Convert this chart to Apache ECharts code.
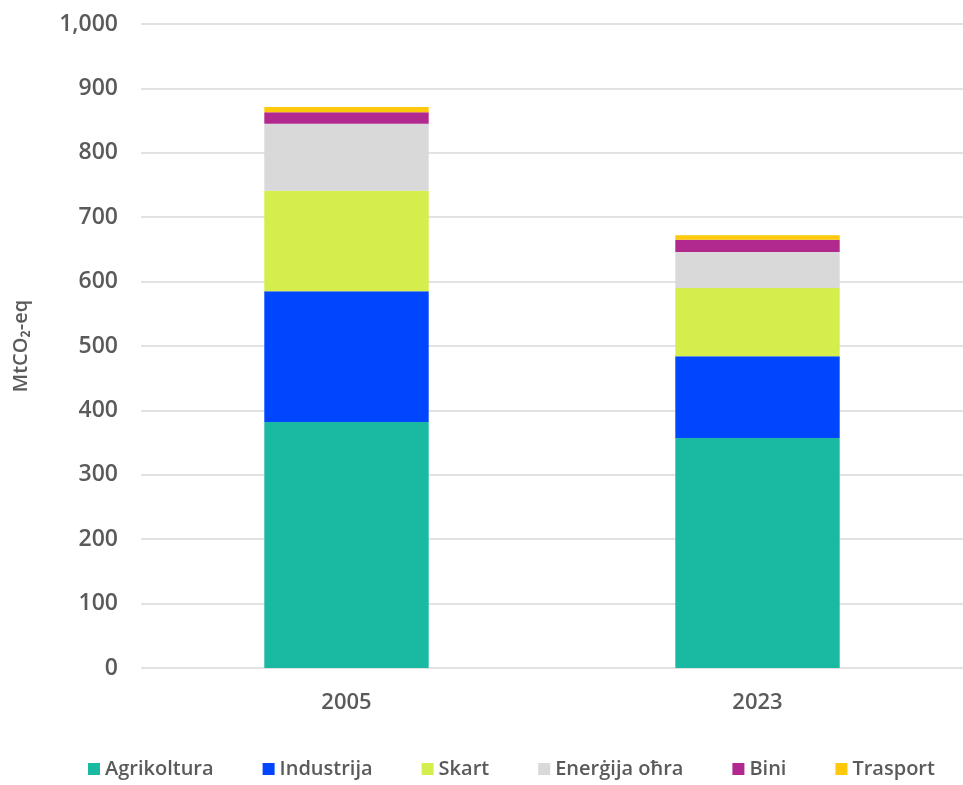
<!DOCTYPE html>
<html>
<head>
<meta charset="utf-8">
<script src="https://cdn.jsdelivr.net/npm/echarts@6/dist/echarts.min.js"></script>
<style>
  html, body { margin: 0; padding: 0; background: #fff; }
  #chart { width: 963px; height: 785px; }
</style>
</head>
<body>
<div id="chart"></div>
<script>
// 年（カテゴリー）
const years = ['2005', '2023'];

// 系列名と値（MtCO2-eq）
const seriesNames = ['Agrikoltura', 'Industrija', 'Skart', 'Enerġija oħra', 'Bini', 'Trasport'];
const agrikoltura = [382, 357];
const industrija = [203, 127];
const skart = [156, 106];
const energijaOhra = [104, 56];
const bini = [18, 19];
const trasport = [8, 7];

// y軸の目盛り
const yTicks = [0, 100, 200, 300, 400, 500, 600, 700, 800, 900, 1000];

const values = [agrikoltura, industrija, skart, energijaOhra, bini, trasport];
const colors = ['#19b9a2', '#0046ff', '#d6ee4b', '#d9d9d9', '#b1288f', '#fdc90a'];

const textColor = '#5a5a5a';
const fontFamily = '"Open Sans", sans-serif';

const series = seriesNames.map((name, i) => ({
  name: name,
  type: 'bar',
  stack: 'total',
  barWidth: '40%',
  data: values[i],
  itemStyle: { color: colors[i] }
}));

const chart = echarts.init(document.getElementById('chart'));

chart.setOption({
  animation: false,
  textStyle: { fontFamily: fontFamily, color: textColor },
  legend: {
    bottom: 1,
    left: 83,
    icon: 'rect',
    itemWidth: 12,
    itemHeight: 12,
    itemGap: 49,
    textStyle: { fontSize: 20, fontWeight: 600, color: textColor, fontFamily: fontFamily }
  },
  grid: {
    top: 24,
    left: 141,
    right: -10,
    bottom: 117
  },
  xAxis: {
    type: 'category',
    data: years,
    axisLine: { show: false },
    axisTick: { show: false },
    axisLabel: { fontSize: 22, fontWeight: 600, color: textColor, margin: 24 }
  },
  yAxis: {
    type: 'value',
    min: yTicks[0],
    max: yTicks[yTicks.length - 1],
    interval: 100,
    name: 'MtCO₂-eq',
    nameLocation: 'middle',
    nameGap: 110,
    nameTextStyle: { fontSize: 20, fontWeight: 600, color: textColor },
    axisLabel: {
      fontSize: 23,
      fontWeight: 600,
      color: textColor,
      margin: 23,
      formatter: v => v.toLocaleString('en-US')
    },
    splitLine: { lineStyle: { color: '#d9d9d9', width: 1.5 } }
  },
  series: series
});
</script>
</body>
</html>
